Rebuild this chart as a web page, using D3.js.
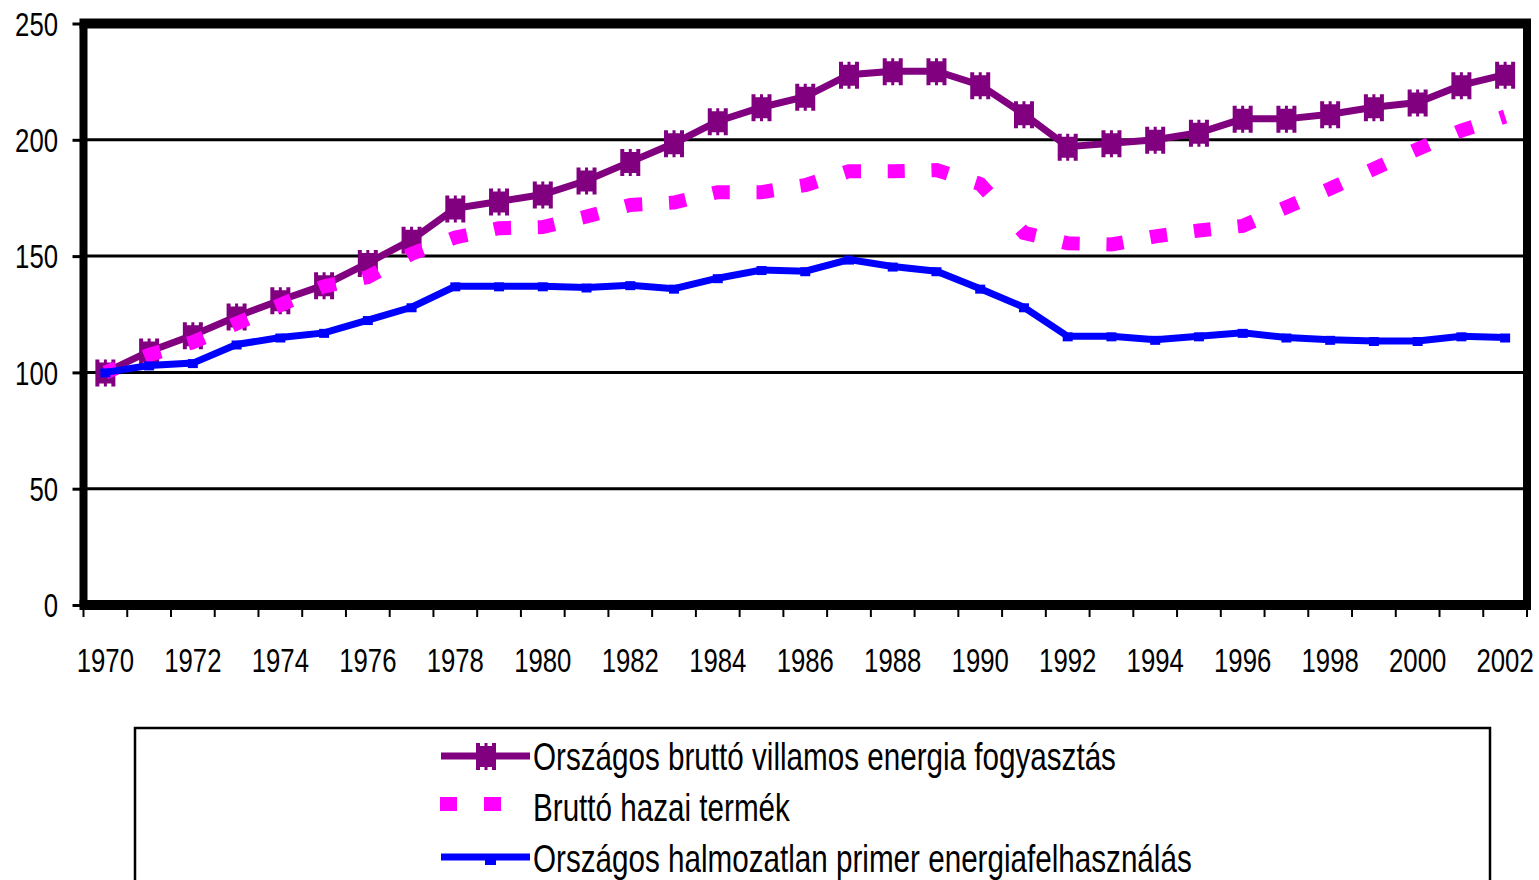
<!DOCTYPE html>
<html>
<head>
<meta charset="utf-8">
<script src="https://cdn.jsdelivr.net/npm/d3@7"></script>
<style>
  body { margin: 0; background: #fff; }
  svg { display: block; }
  text { font-family: "Liberation Sans", Arial, sans-serif; fill: #000; }
</style>
</head>
<body>
<div id="chart"></div>
<script>
const years = [1970, 1971, 1972, 1973, 1974, 1975, 1976, 1977, 1978, 1979,
  1980, 1981, 1982, 1983, 1984, 1985, 1986, 1987, 1988, 1989,
  1990, 1991, 1992, 1993, 1994, 1995, 1996, 1997, 1998, 1999,
  2000, 2001, 2002]

// Országos bruttó villamos energia fogyasztás
const villamos = [100, 109, 116, 124, 131, 137.5, 147, 157, 170.5, 173.5,
  176.5, 182.5, 190.5, 198.5, 208, 214, 218.5, 228, 229.5, 229.5,
  223.5, 211, 197, 198.5, 200, 203, 209, 209, 211, 214,
  216, 223.5, 228]

// Bruttó hazai termék
const gdp = [100, 107.5, 113, 121, 129, 137, 141, 151, 158, 162,
  162.5, 167, 172, 173, 177.5, 177.5, 180.5, 186.5, 186.5, 187,
  181, 160, 155.5, 155, 158.5, 161, 163, 171, 179, 187.5,
  196, 204, 210]

// Országos halmozatlan primer energiafelhasználás
const primer = [100, 103, 104, 112, 115, 117, 122.5, 128, 137, 137,
  137, 136.5, 137.5, 136, 140.5, 144, 143.5, 148.5, 145.5, 143.5,
  136, 128, 115.5, 115.5, 114, 115.5, 117, 115, 114, 113.5,
  113.5, 115.5, 115]

const yTicks = [0, 50, 100, 150, 200, 250]
const xLabels = [1970, 1972, 1974, 1976, 1978, 1980, 1982, 1984, 1986, 1988,
  1990, 1992, 1994, 1996, 1998, 2000, 2002]
const legendLabels = [
  "Országos bruttó villamos energia fogyasztás",
  "Bruttó hazai termék",
  "Országos halmozatlan primer energiafelhasználás"
]

const width = 1539, height = 880
const plot = {left: 83.5, right: 1527, top: 23.5, bottom: 605}
const squeeze = 0.78   // the picture's text is narrow

const purple = "#800080", pink = "#ff00ff", blue = "#0000ff"

const svg = d3.select("#chart").append("svg")
    .attr("width", width)
    .attr("height", height)

const x = d3.scaleBand().domain(years).range([plot.left, plot.right])
const cx = d => x(d) + x.bandwidth() / 2
const y = d3.scaleLinear().domain([0, 250]).range([plot.bottom, plot.top])

// gridlines
svg.append("g")
  .selectAll("line")
  .data(yTicks.filter(d => d > 0 && d < 250))
  .join("line")
    .attr("x1", plot.left).attr("x2", plot.right)
    .attr("y1", d => y(d)).attr("y2", d => y(d))
    .attr("stroke", "#000")
    .attr("stroke-width", 3)

// y axis
const yAxis = svg.append("g")
    .attr("transform", `translate(${plot.left},0)`)
    .attr("font-family", null).attr("font-size", null)
    .call(d3.axisLeft(y).tickValues(yTicks).tickSize(11).tickSizeOuter(0))
yAxis.select(".domain").remove()
yAxis.selectAll(".tick line").attr("stroke-width", 3)
yAxis.selectAll(".tick text")
    .attr("x", -25.5 / squeeze)
    .attr("dy", "0.36em")
    .attr("transform", `scale(${squeeze},1)`)
    .style("font-size", "33px")

// x axis labels (every second year)
const xAxis = svg.append("g")
    .attr("transform", `translate(0,${plot.bottom})`)
    .call(d3.axisBottom(x).tickValues(xLabels).tickSize(0))
xAxis.select(".domain").remove()
xAxis.selectAll(".tick text")
    .attr("y", 67)
    .attr("dy", 0)
    .attr("transform", `scale(${squeeze},1)`)
    .style("font-size", "33px")

// x ticks sit on the category boundaries
svg.append("g")
  .selectAll("line")
  .data(years.map(d => x(d)).concat([plot.right]))
  .join("line")
    .attr("x1", d => d).attr("x2", d => d)
    .attr("y1", plot.bottom).attr("y2", plot.bottom + 12)
    .attr("stroke", "#000")
    .attr("stroke-width", 2)

// heavy plot frame
const frame = svg.append("g").attr("stroke", "#000")
frame.append("line").attr("x1", plot.left - 4).attr("x2", plot.right + 4)
    .attr("y1", plot.top).attr("y2", plot.top).attr("stroke-width", 10)
frame.append("line").attr("x1", plot.left - 4).attr("x2", plot.right + 4)
    .attr("y1", plot.bottom).attr("y2", plot.bottom).attr("stroke-width", 10)
frame.append("line").attr("x1", plot.left).attr("x2", plot.left)
    .attr("y1", plot.top).attr("y2", plot.bottom).attr("stroke-width", 8)
frame.append("line").attr("x1", plot.right).attr("x2", plot.right)
    .attr("y1", plot.top).attr("y2", plot.bottom).attr("stroke-width", 8)

const line = d3.line()
    .x((d, i) => cx(years[i]))
    .y(d => y(d))

// star-ish marker: a block with small teeth top and bottom
const starMarker = "M-10,-10h20v21h-20Z" +
  "M-10,-13h4v3h-4Z M-1.5,-13h3v3h-3Z M6,-13h4v3h-4Z" +
  "M-10,11h4v3h-4Z M-1.5,11h3v3h-3Z M6,11h4v3h-4Z"

// purple series
svg.append("path")
    .datum(villamos)
    .attr("d", line)
    .attr("fill", "none")
    .attr("stroke", purple)
    .attr("stroke-width", 7)
svg.append("g")
  .selectAll("path")
  .data(villamos)
  .join("path")
    .attr("d", starMarker)
    .attr("transform", (d, i) => `translate(${cx(years[i])},${y(d)})`)
    .attr("fill", purple)

// pink series: square dashes placed around each data point
const pts = gdp.map((d, i) => [cx(years[i]), y(d)])
const segLen = d3.pairs(pts).map(([a, b]) => Math.hypot(b[0] - a[0], b[1] - a[1]))
const before = 5, after = 12
let dash = [after]
segLen.forEach((L, i) => {
  dash.push(L - before - after)
  dash.push(i < segLen.length - 1 ? before + after : before)
})
svg.append("path")
    .datum(gdp)
    .attr("d", line)
    .attr("fill", "none")
    .attr("stroke", pink)
    .attr("stroke-width", 14)
    .attr("stroke-dasharray", dash.join(" "))

// blue series
svg.append("path")
    .datum(primer)
    .attr("d", line)
    .attr("fill", "none")
    .attr("stroke", blue)
    .attr("stroke-width", 7)
svg.append("g")
  .selectAll("rect")
  .data(primer)
  .join("rect")
    .attr("x", (d, i) => cx(years[i]) - 5)
    .attr("y", d => y(d) - 4)
    .attr("width", 10)
    .attr("height", 9)
    .attr("fill", blue)

// legend
const legend = svg.append("g")
legend.append("rect")
    .attr("x", 135).attr("y", 728)
    .attr("width", 1355).attr("height", 220)
    .attr("fill", "none")
    .attr("stroke", "#000")
    .attr("stroke-width", 2.5)

const rowBase = [770, 821, 872]
const row = legend.selectAll(".row")
  .data(legendLabels)
  .join("g")
    .attr("class", "row")

row.append("text")
    .attr("transform", (d, i) => `translate(533,${rowBase[i]}) scale(${squeeze},1)`)
    .style("font-size", "38px")
    .text(d => d)

const s0 = rowBase[0] - 14, s1 = rowBase[1] - 17, s2 = rowBase[2] - 15
legend.append("line")
    .attr("x1", 441).attr("x2", 530).attr("y1", s0).attr("y2", s0)
    .attr("stroke", purple).attr("stroke-width", 7)
legend.append("path")
    .attr("d", starMarker)
    .attr("transform", `translate(486,${s0})`)
    .attr("fill", purple)
legend.append("line")
    .attr("x1", 440).attr("x2", 504).attr("y1", s1).attr("y2", s1)
    .attr("stroke", pink).attr("stroke-width", 14)
    .attr("stroke-dasharray", "17 27")
legend.append("line")
    .attr("x1", 441).attr("x2", 530).attr("y1", s2).attr("y2", s2)
    .attr("stroke", blue).attr("stroke-width", 7)
legend.append("rect")
    .attr("x", 485).attr("y", s2 - 3).attr("width", 11).attr("height", 11)
    .attr("fill", blue)
</script>
</body>
</html>
